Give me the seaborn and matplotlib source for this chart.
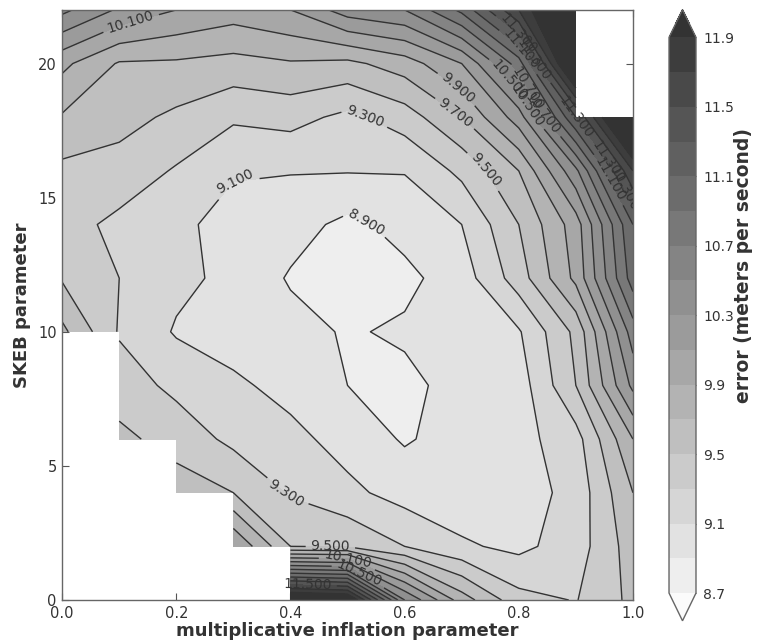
import numpy as np
import matplotlib
matplotlib.use("Agg")
import matplotlib.pyplot as plt
import seaborn as sns
from matplotlib.colors import ListedColormap

# ---- data ----
inflation = [0.0, 0.1, 0.2, 0.3, 0.4, 0.5, 0.6, 0.7, 0.8, 0.9, 1.0]
skeb = [0, 2, 4, 6, 8, 10, 12, 14, 16, 18, 20, 22]
nan = float("nan")
err_skeb00 = [nan, nan, nan, nan, 12.3, 12.2, 10.5, 9.8, 9.37, 9.29, 9.55]
err_skeb02 = [nan, nan, nan, 10.1, 9.5, 9.48, 9.3, 9.13, 9.05, 9.2, 9.6]
err_skeb04 = [nan, nan, 9.6, 9.5, 9.28, 9.15, 9.02, 8.97, 9.0, 9.17, 9.7]
err_skeb06 = [nan, 9.55, 9.42, 9.25, 9.16, 9.02, 8.88, 8.98, 9.03, 9.22, 9.9]
err_skeb08 = [nan, 9.4, 9.25, 9.14, 9.03, 8.9, 8.85, 8.97, 9.0, 9.5, 10.35]
err_skeb10 = [9.75, 9.28, 9.08, 9.0, 8.97, 8.88, 8.93, 9.0, 9.08, 9.55, 10.6]
err_skeb12 = [9.48, 9.3, 9.15, 9.05, 8.88, 8.8, 8.85, 9.0, 9.4, 9.95, 11.0]
err_skeb14 = [9.38, 9.25, 9.15, 9.02, 8.98, 8.85, 8.97, 9.1, 9.5, 10.0, 11.1]
err_skeb16 = [9.45, 9.42, 9.28, 9.12, 9.11, 9.11, 9.11, 9.35, 9.7, 10.45, 11.7]
err_skeb18 = [9.68, 9.57, 9.46, 9.33, 9.37, 9.25, 9.4, 9.7, 10.2, 11.3, 12.6]
err_skeb20 = [9.95, 9.68, 9.67, 9.63, 9.68, 9.65, 9.8, 10.1, 10.8, 12.4, nan]
err_skeb22 = [10.55, 10.27, 10.1, 10.0, 10.1, 10.4, 10.5, 10.95, 11.7, 12.6, nan]

contour_levels = [8.7, 8.9, 9.1, 9.3, 9.5, 9.7, 9.9, 10.1, 10.3, 10.5,
                  10.7, 10.9, 11.1, 11.3, 11.5, 11.7, 11.9]
cbar_ticks = [8.7, 9.1, 9.5, 9.9, 10.3, 10.7, 11.1, 11.5, 11.9]
x_ticks = [0.0, 0.2, 0.4, 0.6, 0.8, 1.0]
y_ticks = [0, 5, 10, 15, 20]

# approximate spots where the reference puts its contour labels
label_spots = [(0.12, 21.55), (0.53, 18.0), (0.30, 16.1), (0.53, 14.0),
               (0.70, 19.3), (0.70, 18.5), (0.74, 16.0),
               (0.79, 19.5), (0.81, 19.0), (0.82, 18.5), (0.84, 18.2),
               (0.90, 18.0), (0.80, 21.1), (0.81, 20.6), (0.82, 20.1),
               (0.96, 16.4), (0.97, 15.8), (0.98, 15.3),
               (0.39, 3.9), (0.47, 2.0), (0.43, 0.5),
               (0.50, 1.5), (0.52, 1.0)]

# ---- style ----
sns.set_theme(style="ticks")
plt.rcParams["font.family"] = ["DejaVu Sans"]
plt.rcParams["text.color"] = "#333333"
plt.rcParams["axes.labelcolor"] = "#333333"
plt.rcParams["xtick.color"] = "#555555"
plt.rcParams["ytick.color"] = "#555555"
plt.rcParams["xtick.labelcolor"] = "#333333"
plt.rcParams["ytick.labelcolor"] = "#333333"

fig = plt.figure(figsize=(7.58, 6.40), dpi=100)
ax = fig.add_axes([0.082, 0.0625, 0.753, 0.922])
cax = fig.add_axes([0.8826, 0.030, 0.0356, 0.955])

Z = np.ma.masked_invalid(np.array([err_skeb00, err_skeb02, err_skeb04, err_skeb06,
                                   err_skeb08, err_skeb10, err_skeb12, err_skeb14,
                                   err_skeb16, err_skeb18, err_skeb20, err_skeb22],
                                  dtype=float))
X, Y = np.meshgrid(inflation, skeb)

palette = sns.blend_palette(["#eeeeee", "#3d3d3d"], n_colors=len(contour_levels) - 1)
cmap = ListedColormap(palette)
cmap.set_under("#fbfbfb")
cmap.set_over("#333333")

cf = ax.contourf(X, Y, Z, levels=contour_levels, cmap=cmap, extend="both",
                 corner_mask=False)
cs = ax.contour(X, Y, Z, levels=contour_levels, colors="#333333",
                linewidths=1.0, corner_mask=False)

ax.set_xlim(0, 1)
ax.set_ylim(0, 22)
ax.set_xticks(x_ticks)
ax.set_xticklabels([f"{v:.1f}" for v in x_ticks])
ax.set_yticks(y_ticks)
ax.tick_params(direction="in", length=5, width=0.8, top=True, right=True,
               labelsize=10.5, pad=4)
for s in ax.spines.values():
    s.set_color("#666666")
    s.set_linewidth(1.0)

ax.clabel(cs, fmt="%.3f", fontsize=10, inline=True, colors="#333333",
          manual=label_spots)

ax.set_xlabel("multiplicative inflation parameter", fontsize=13,
              fontweight="bold", labelpad=1)
ax.set_ylabel("SKEB parameter", fontsize=13, fontweight="bold", labelpad=5)

cb = fig.colorbar(cf, cax=cax, ticks=cbar_ticks)
cb.ax.tick_params(direction="in", length=5, width=0.8, labelsize=10, pad=5)
cb.outline.set_edgecolor("#666666")
cb.outline.set_linewidth(1.0)
cb.set_label("error (meters per second)", fontsize=13.5, fontweight="bold")
cb.ax.yaxis.set_label_coords(2.42, 0.59)

fig.savefig("out.png", dpi=100)
